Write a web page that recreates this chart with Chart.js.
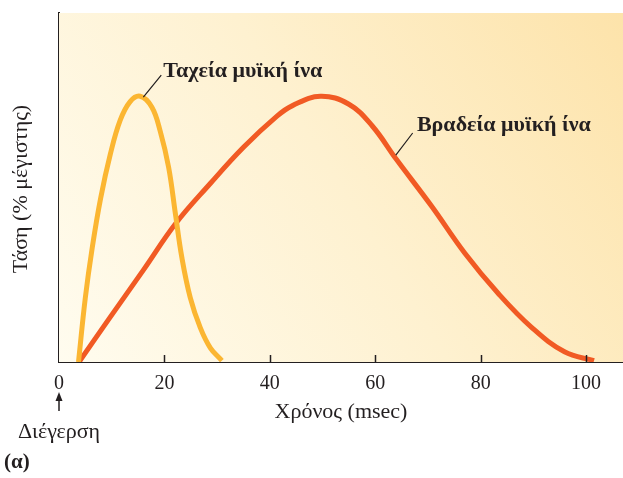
<!DOCTYPE html>
<html>
<head>
<meta charset="utf-8">
<script src="https://cdn.jsdelivr.net/npm/chart.js@4.4.1/dist/chart.umd.min.js"></script>
<style>
  html, body { margin: 0; padding: 0; background: #ffffff; }
  #c { display: block; }
</style>
</head>
<body>
<canvas id="c" width="623" height="478"></canvas>
<script>
// Data (time in msec, tension in % of maximum)
const fastTime = [3.7, 5.0, 6.3, 7.9, 9.75, 11.6, 13.5, 15.4, 17.6, 19.2, 20.8, 22.1, 23.3, 24.9, 26.8, 28.7, 30.9];
const fastTension = [0, 24, 42.5, 61, 77.5, 90, 97, 99, 95, 86, 72.5, 55, 39, 24, 12.8, 5.3, 0.5];

const slowTime = [3.8, 9.75, 16.1, 22.1, 28.7, 35, 41.3, 44.3, 49.6, 55, 59.4, 64, 70.7, 77, 83.3, 89.6, 95.9, 101.5];
const slowTension = [0, 16.8, 34.5, 51.5, 66.5, 80, 91.5, 95.5, 99, 96, 88, 75.5, 58, 40.5, 25.6, 13, 3.8, 0.5];

const xTicks = [0, 20, 40, 60, 80, 100];

const fastLabel = 'Ταχεία μυϊκή ίνα';
const slowLabel = 'Βραδεία μυϊκή ίνα';
const xTitle = 'Χρόνος (msec)';
const yTitle = 'Τάση (% μέγιστης)';
const stimLabel = 'Διέγερση';
const panelLabel = '(α)';

const ink = '#231f20';
const serif = "'Liberation Serif', 'DejaVu Serif', serif";

const toPoints = (xs, ys) => xs.map((x, i) => ({ x: x, y: ys[i] }));

// background, inside ticks and the text around the plot
const decor = {
    id: 'decor',
    beforeDatasetsDraw(chart) {
        const { ctx, chartArea: a } = chart;
        const g = ctx.createLinearGradient(a.left, a.bottom, a.right, a.top);
        g.addColorStop(0, '#fffcef');
        g.addColorStop(0.5, '#fef1d0');
        g.addColorStop(1, '#fde3aa');
        ctx.save();
        ctx.fillStyle = g;
        ctx.fillRect(a.left, a.top, a.right - a.left, a.bottom - a.top);
        ctx.restore();
    },
    afterDatasetsDraw(chart) {
        const { ctx, chartArea: a, scales } = chart;
        const sx = scales.x, sy = scales.y;
        ctx.save();
        // ticks pointing into the plot
        ctx.strokeStyle = ink;
        ctx.lineWidth = 1.5;
        xTicks.forEach(v => {
            if (v === 0) return;
            const px = Math.round(sx.getPixelForValue(v)) + 0.5;
            ctx.beginPath();
            ctx.moveTo(px, a.bottom);
            ctx.lineTo(px, a.bottom - 7);
            ctx.stroke();
        });

        // leader lines
        ctx.lineWidth = 1.2;
        ctx.beginPath();
        ctx.moveTo(sx.getPixelForValue(16.0), sy.getPixelForValue(98.7));
        ctx.lineTo(sx.getPixelForValue(19.4), sy.getPixelForValue(106.9));
        ctx.moveTo(sx.getPixelForValue(63.9), sy.getPixelForValue(77.1));
        ctx.lineTo(sx.getPixelForValue(67.1), sy.getPixelForValue(85.3));
        ctx.stroke();

        // curve labels
        ctx.fillStyle = ink;
        ctx.font = 'bold 22px ' + serif;
        ctx.textAlign = 'left';
        ctx.textBaseline = 'alphabetic';
        ctx.fillText(fastLabel, sx.getPixelForValue(19.8), sy.getPixelForValue(106.1));
        ctx.fillText(slowLabel, sx.getPixelForValue(67.9), sy.getPixelForValue(86));

        // axis titles
        ctx.font = '22px ' + serif;
        ctx.textAlign = 'center';
        ctx.fillText(xTitle, (a.left + a.right) / 2, 418);
        ctx.save();
        ctx.translate(27, 189);
        ctx.rotate(-Math.PI / 2);
        ctx.fillText(yTitle, 0, 0);
        ctx.restore();

        // stimulus arrow and label
        const x0 = sx.getPixelForValue(0);
        ctx.lineWidth = 1.5;
        ctx.beginPath();
        ctx.moveTo(x0, 411);
        ctx.lineTo(x0, 398);
        ctx.stroke();
        ctx.beginPath();
        ctx.moveTo(x0, 392);
        ctx.lineTo(x0 - 3.5, 401);
        ctx.lineTo(x0 + 3.5, 401);
        ctx.closePath();
        ctx.fill();
        ctx.fillText(stimLabel, x0, 438);

        ctx.font = 'bold 21px ' + serif;
        ctx.textAlign = 'left';
        ctx.fillText(panelLabel, 4, 468);
        ctx.restore();
    }
};

new Chart(document.getElementById('c'), {
    type: 'line',
    data: {
        datasets: [
            {
                label: fastLabel,
                data: toPoints(fastTime, fastTension),
                borderColor: '#fbb632',
                borderWidth: 5,
                pointRadius: 0,
                tension: 0.4,
                fill: false
            },
            {
                label: slowLabel,
                data: toPoints(slowTime, slowTension),
                borderColor: '#f15a24',
                borderWidth: 5,
                pointRadius: 0,
                tension: 0.4,
                fill: false
            }
        ]
    },
    options: {
        responsive: false,
        animation: false,
        devicePixelRatio: 1,
        layout: { padding: { top: 13, right: 0, left: 0, bottom: 0 } },
        plugins: {
            legend: { display: false },
            tooltip: { enabled: false }
        },
        scales: {
            x: {
                type: 'linear',
                min: 0,
                max: 107,
                afterBuildTicks: s => { s.ticks = xTicks.map(v => ({ value: v })); },
                afterFit: s => { s.height = 116; },
                grid: { display: false },
                border: { display: true, color: ink, width: 2 },
                ticks: {
                    color: ink,
                    padding: 2,
                    maxRotation: 0,
                    font: { family: serif, size: 20 }
                }
            },
            y: {
                min: 0,
                max: 130,
                afterFit: s => { s.width = 59; },
                grid: { display: false },
                border: { display: true, color: ink, width: 2 },
                ticks: { display: false }
            }
        }
    },
    plugins: [decor]
});
</script>
</body>
</html>
